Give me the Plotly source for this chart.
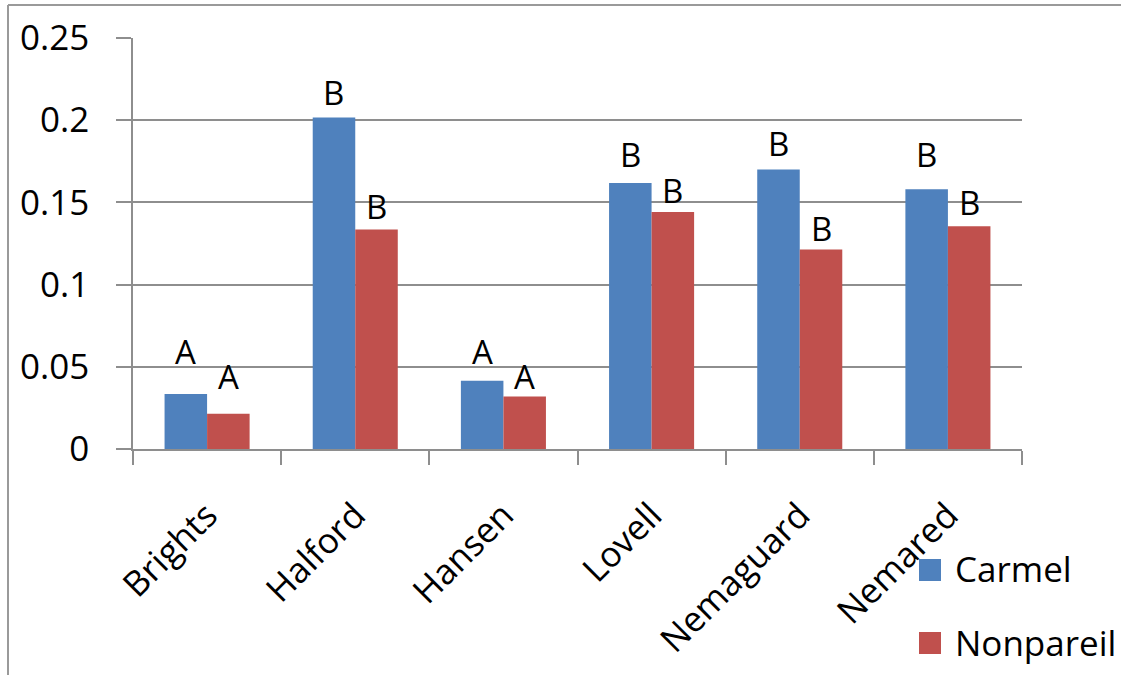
import plotly.graph_objects as go

# Rootstock categories and the two scion series
rootstocks = ["Brights", "Halford", "Hansen", "Lovell", "Nemaguard", "Nemared"]
carmel = [0.0335, 0.2017, 0.0415, 0.1618, 0.1700, 0.1580]
nonpareil = [0.0215, 0.1335, 0.0319, 0.1441, 0.1213, 0.1355]

# Significance letters shown above each bar
carmel_letters = ["A", "B", "A", "B", "B", "B"]
nonpareil_letters = ["A", "B", "A", "B", "B", "B"]

# Extra lift (px) for each letter above its bar
carmel_lift = [18, 0, 5, 4, 2, 10]
nonpareil_lift = [13, -1, -4, -3, -3, -1]

BLUE = "#4F81BD"
RED = "#C0504D"
GRID = "#8E8E8E"
FONT = "Open Sans"

W, H = 1121, 675
L, R, T, B = 133, 99, 38, 226
PW, PH = W - L - R, H - T - B


def px_x(px):
    return (px - L) / PW


def px_y(py):
    return (H - B - py) / PH


fig = go.Figure()
fig.add_trace(go.Bar(x=rootstocks, y=carmel, name="Carmel",
                     marker=dict(color=BLUE, line=dict(width=0))))
fig.add_trace(go.Bar(x=rootstocks, y=nonpareil, name="Nonpareil",
                     marker=dict(color=RED, line=dict(width=0))))

bargap = 0.426
half = (1 - bargap) / 4  # centre offset of each bar within its group

annotations = []
for i in range(len(rootstocks)):
    for off, vals, letters, lifts in ((-half, carmel, carmel_letters, carmel_lift),
                                      (half, nonpareil, nonpareil_letters, nonpareil_lift)):
        annotations.append(dict(
            x=i + off, y=vals[i], xref="x", yref="y", text=letters[i],
            showarrow=False, yanchor="bottom", xanchor="center", yshift=lifts[i],
            font=dict(family=FONT, size=33, color="#000000"),
        ))

# Legend entries drawn as swatches with labels
legend_items = [("Carmel", BLUE, 559, 568), ("Nonpareil", RED, 632, 642)]
shapes = []
for label, color, top, mid in legend_items:
    shapes.append(dict(type="rect", xref="paper", yref="paper",
                       x0=px_x(919), x1=px_x(941), y0=px_y(top + 22), y1=px_y(top),
                       fillcolor=color, line=dict(width=0)))
    annotations.append(dict(x=px_x(953), y=px_y(mid), xref="paper", yref="paper",
                            text=label, showarrow=False, xanchor="left", yanchor="middle",
                            font=dict(family=FONT, size=35, color="#000000")))

# Chart frame (top and left edges)
shapes.append(dict(type="line", xref="paper", yref="paper",
                   x0=px_x(8), x1=px_x(W), y0=px_y(5), y1=px_y(5),
                   line=dict(color="#9A9A9A", width=2)))
shapes.append(dict(type="line", xref="paper", yref="paper",
                   x0=px_x(8), x1=px_x(8), y0=px_y(5), y1=px_y(H),
                   line=dict(color="#9A9A9A", width=2)))

fig.update_layout(
    width=W, height=H,
    margin=dict(l=L, r=R, t=T, b=B, pad=0),
    paper_bgcolor="white", plot_bgcolor="white",
    barmode="group", bargap=bargap, bargroupgap=0,
    showlegend=False,
    font=dict(family=FONT, size=35, color="#000000"),
    annotations=annotations,
    shapes=shapes,
)

fig.update_xaxes(
    type="category", tickangle=-45, tickson="boundaries",
    ticks="outside", ticklen=14, tickwidth=1.5, tickcolor=GRID,
    showline=True, linecolor=GRID, linewidth=1.5,
    showgrid=False, ticklabelstandoff=30,
    tickfont=dict(family=FONT, size=35, color="#000000"),
)
fig.update_yaxes(
    range=[0, 0.25], dtick=0.05, tick0=0,
    ticks="outside", ticklen=15, tickwidth=1.5, tickcolor=GRID,
    showline=True, linecolor=GRID, linewidth=1.5,
    showgrid=True, gridcolor=GRID, gridwidth=1.5,
    zeroline=False, ticklabelstandoff=20,
    tickfont=dict(family=FONT, size=35, color="#000000"),
)

fig.write_html("out.html")
